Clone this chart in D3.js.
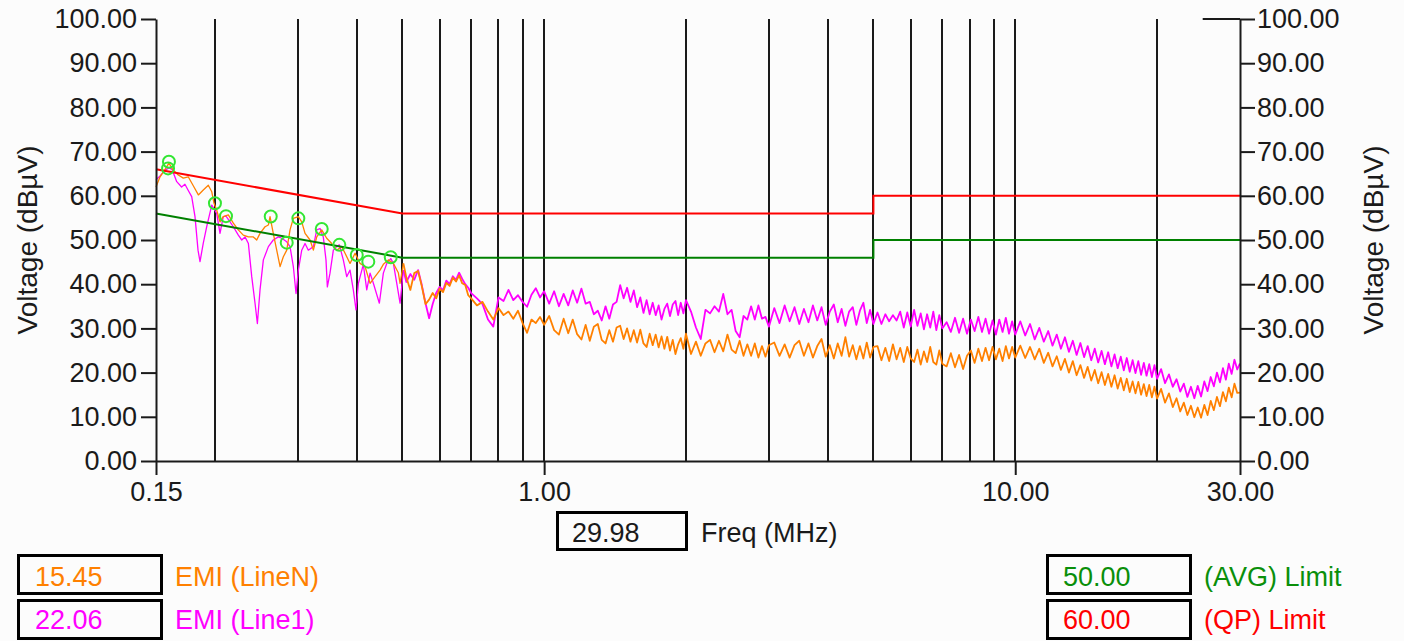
<!DOCTYPE html>
<html>
<head>
<meta charset="utf-8">
<script src="https://cdn.jsdelivr.net/npm/d3@7"></script>
<style>
  html, body { margin: 0; padding: 0; background: #fcfcfc; }
  svg text { font-family: "Liberation Sans", Arial, sans-serif; }
</style>
</head>
<body>
<svg id="chart" width="1404" height="641"></svg>
<script>
// ---------------- data ----------------
const yTicks = [0, 10, 20, 30, 40, 50, 60, 70, 80, 90, 100];
const xTicks = [0.15, 1, 10, 30];
const gridMHz = [0.2, 0.3, 0.4, 0.5, 0.6, 0.7, 0.8, 0.9, 1, 2, 3, 4, 5, 6, 7, 8, 9, 10, 20];

// QP and AVG limit lines [MHz, dBuV]
const qpLimit  = [[0.15, 66], [0.5, 56], [5, 56], [5, 60], [30, 60]];
const avgLimit = [[0.15, 56], [0.5, 46], [5, 46], [5, 50], [30, 50]];

// low-frequency detail, [MHz, dBuV]
const lineNLow = [[0.150,62.0],[0.153,64.3],[0.1568,66.0],[0.1598,67.4],[0.1632,65.8],[0.1673,64.7],[0.1714,64.0],[0.1756,64.3],[0.1806,62.0],[0.1845,60.2],[0.189,61.3],[0.1937,62.4],[0.197,60.9],[0.1992,58.3],[0.2018,56.8],[0.2051,54.1],[0.2084,55.3],[0.2136,55.7],[0.2189,53.8],[0.2243,52.3],[0.2298,51.1],[0.2356,50.7],[0.2414,50.7],[0.2454,50.0],[0.2494,51.5],[0.2556,53.0],[0.2598,53.4],[0.2619,55.3],[0.2661,51.5],[0.2706,47.7],[0.2751,44.0],[0.2795,46.2],[0.2842,47.7],[0.2888,52.3],[0.2935,54.9],[0.3008,55.3],[0.3058,54.1],[0.3108,51.5],[0.3185,50.0],[0.3237,47.7],[0.3291,50.7],[0.3372,52.3],[0.3455,50.4],[0.3541,49.2],[0.3628,47.7],[0.3718,48.5],[0.3779,47.0],[0.3872,44.7],[0.3969,47.0],[0.4066,44.7],[0.4167,44.0],[0.4271,40.2],[0.4376,41.7],[0.4484,43.2],[0.4557,44.5],[0.467,45.5],[0.4786,44.7],[0.4903,42.6],[0.4945,40.2],[0.5026,44.7]];

const line1Low = [[0.150,63.6],[0.153,64.5],[0.1568,65.8],[0.1598,66.3],[0.1622,66.0],[0.166,63.2],[0.170,62.0],[0.1728,62.6],[0.1754,61.3],[0.1786,59.8],[0.1815,55.3],[0.1842,47.7],[0.186,45.1],[0.189,49.3],[0.1922,53.0],[0.197,57.9],[0.2018,56.0],[0.2051,51.5],[0.2084,55.3],[0.2112,55.4],[0.2154,54.1],[0.2189,53.0],[0.2243,51.1],[0.2281,50.0],[0.2318,50.7],[0.2356,49.2],[0.2395,41.7],[0.2434,35.7],[0.2462,31.1],[0.2494,38.7],[0.2535,45.5],[0.2598,48.5],[0.2661,50.0],[0.2728,50.7],[0.2773,50.4],[0.2842,49.6],[0.2888,48.5],[0.2935,44.0],[0.2974,37.9],[0.3008,43.2],[0.3058,47.7],[0.3108,49.2],[0.3158,47.7],[0.3237,48.5],[0.3291,52.3],[0.3344,52.6],[0.3398,50.7],[0.3443,45.5],[0.3466,39.4],[0.3511,42.5],[0.3569,47.7],[0.3628,48.5],[0.3675,48.9],[0.3747,45.5],[0.3810,41.7],[0.3872,43.2],[0.3935,38.7],[0.3987,34.2],[0.4034,40.2],[0.4132,44.5],[0.4202,38.7],[0.4271,42.5],[0.4340,40.2],[0.4469,35.7],[0.4557,42.5],[0.4634,44.7],[0.4725,45.8],[0.4786,44.7],[0.4866,40.2],[0.4945,35.7],[0.5026,43.2]];

// sweep above 0.5 MHz
const sweepMHz = [
  0.51,0.52,0.53,0.54,0.55,0.56,0.57,0.58,0.59,0.60,0.61,0.62,0.63,0.64,0.65,0.66,0.67,0.68,0.69,0.70,
  0.72,0.74,0.76,0.78,0.80,0.82,0.84,0.86,0.88,0.90,0.92,0.94,0.96,0.98,1.00,
  1.025,1.05,1.075,1.10,1.125,1.15,1.175,1.20,1.225,1.25,1.275,1.30,1.325,1.35,1.375,1.40,1.425,1.45,1.475,1.50,
  1.525,1.55,1.575,1.60,1.625,1.65,1.675,1.70,1.725,1.75,1.775,1.80,1.825,1.85,1.875,1.90,1.925,1.95,1.975,2.00,
  2.05,2.10,2.15,2.20,2.25,2.30,2.35,2.40,2.45,2.50,2.55,2.60,2.65,2.70,2.75,2.80,2.85,2.90,2.95,3.00,
  3.08,3.16,3.24,3.32,3.40,3.48,3.56,3.64,3.72,3.80,3.88,3.96,4.04,4.12,4.20,4.28,4.36,4.44,4.52,4.60,4.68,4.76,4.84,4.92,5.00,
  5.1,5.2,5.3,5.4,5.5,5.6,5.7,5.8,5.9,6.0,6.1,6.2,6.3,6.4,6.5,6.6,6.7,6.8,6.9,7.0,
  7.15,7.30,7.45,7.60,7.75,7.90,8.05,8.20,8.35,8.50,8.65,8.80,8.95,9.10,9.25,9.40,9.55,9.70,9.85,10.0,
  10.25,10.5,10.75,11.0,11.25,11.5,11.75,12.0,12.25,12.5,12.75,13.0,13.25,13.5,13.75,14.0,14.25,14.5,14.75,15.0,
  15.25,15.5,15.75,16.0,16.25,16.5,16.75,17.0,17.25,17.5,17.75,18.0,18.25,18.5,18.75,19.0,19.25,19.5,19.75,20.0,
  20.4,20.8,21.2,21.6,22.0,22.4,22.8,23.2,23.6,24.0,24.4,24.8,25.2,25.6,26.0,26.4,26.8,27.2,27.6,28.0,28.4,28.8,29.2,29.6,29.98
];

const lineNSweep = [
  41.5,38.7,42.5,43.0,39.5,35.5,36.5,38.0,36.8,39.0,38.2,40.3,39.6,41.5,40.6,42.0,40.2,39.8,37.5,36.8,
  35.2,36.0,33.8,32.0,34.6,33.0,33.8,32.2,34.0,31.2,29.0,32.0,31.2,32.6,30.8,
  32.8,29.6,28.6,32.2,28.9,32.0,28.7,27.5,30.8,27.2,30.4,31.0,27.4,26.6,29.6,27.0,30.2,30.6,27.6,30.0,
  27.0,29.6,26.8,29.7,26.6,25.8,28.8,26.2,28.6,25.7,28.2,25.4,28.1,25.0,27.4,24.2,26.4,27.8,25.4,28.8,
  24.2,27.0,23.8,26.6,27.4,24.6,27.2,24.8,28.6,25.2,24.4,27.2,23.8,26.4,23.8,26.6,23.4,26.0,23.6,26.2,
  26.8,23.8,26.4,23.4,26.2,27.2,23.8,26.6,23.4,26.0,27.6,23.6,26.2,23.2,26.6,23.8,28.0,23.6,26.2,23.0,26.0,23.2,26.8,23.4,25.8,
  26.0,22.8,25.6,22.6,26.4,23.0,25.6,22.4,25.8,23.2,22.4,25.2,21.8,24.8,22.4,25.8,22.4,21.8,25.0,22.0,
  21.4,24.4,21.2,24.0,20.8,23.8,25.0,22.2,25.4,22.6,25.6,22.8,25.8,23.0,25.4,22.6,26.0,23.2,25.8,23.4,
  26.1,23.3,25.8,23.0,25.4,22.2,24.5,21.4,23.7,20.6,23.1,20.0,22.6,19.4,21.7,18.8,21.3,18.2,20.6,17.6,
  20.1,17.2,19.7,16.8,19.4,16.4,18.8,16.0,18.6,15.6,18.0,15.3,17.9,15.0,17.4,14.7,17.2,14.4,16.8,14.1,
  16.3,13.2,15.3,12.2,14.2,11.2,13.2,10.4,12.5,9.9,12.1,9.8,12.7,10.4,13.6,11.5,14.5,12.4,15.6,13.5,16.6,14.4,17.5,15.4,15.45
];

const line1Sweep = [
  40.5,42.3,41.0,43.2,39.8,35.7,32.3,35.5,38.0,39.4,38.6,40.8,40.0,41.8,41.0,42.6,41.2,40.0,39.2,38.0,
  36.8,35.5,32.0,30.4,37.0,36.2,38.7,36.4,37.5,36.0,34.9,37.6,39.1,37.0,38.4,
  35.6,38.4,35.0,37.8,35.2,38.6,35.8,39.0,35.6,36.0,33.2,34.0,31.8,35.0,32.2,35.4,36.0,39.8,36.8,39.2,
  36.0,38.6,34.8,37.0,33.5,36.4,33.2,35.8,33.0,35.2,32.0,34.4,35.6,32.8,35.4,36.2,33.0,35.8,33.4,36.4,
  33.8,30.2,27.6,34.2,33.4,35.0,33.8,37.8,33.2,34.2,29.4,28.0,32.8,32.0,35.0,32.0,35.2,32.2,32.6,30.4,
  34.6,31.2,35.2,31.6,34.8,31.0,34.4,31.4,35.2,31.8,34.8,30.8,33.8,35.4,31.4,34.4,30.6,33.8,34.8,30.8,34.0,35.8,31.2,34.2,31.0,
  33.6,31.0,33.2,31.6,33.0,31.8,33.8,30.2,33.6,30.4,34.2,30.6,33.4,29.8,33.2,30.2,33.8,29.6,33.0,30.0,
  31.4,29.2,32.4,29.0,32.2,28.8,32.0,29.4,32.6,29.2,32.2,28.8,31.8,28.6,32.0,29.2,32.4,28.8,31.6,28.6,
  31.6,28.4,31.0,27.5,30.1,27.0,29.4,26.1,28.6,25.4,28.0,24.7,27.2,24.0,26.7,23.5,26.0,22.8,25.4,22.3,
  24.9,21.9,24.6,21.4,24.1,21.0,23.6,20.5,23.3,20.2,22.8,19.9,22.6,19.5,22.2,19.3,21.9,19.0,21.7,18.6,
  20.8,17.6,19.6,16.8,18.5,15.7,17.5,14.5,16.8,14.2,17.0,14.6,18.0,15.8,19.0,16.9,20.0,17.8,21.0,18.4,22.0,19.7,22.9,20.7,22.06
];

// peak markers [MHz, dBuV]
const peakMarks = [[0.1598,67.7],[0.1591,66.2],[0.2001,58.3],[0.2112,55.4],[0.2628,55.3],[0.2842,49.4],[0.3008,54.9],[0.3372,52.5],[0.3675,48.9],[0.4002,46.6],[0.4234,45.1],[0.4725,46.1]];

const cursorMHz = 29.98;
const seriesNames = ["EMI (LineN)", "EMI (Line1)", "(AVG) Limit", "(QP) Limit"];
const axisTitleY = "Voltage (dBµV)";
const axisTitleX = "Freq (MHz)";

// ---------------- drawing ----------------
const C = { orange: "#ff8000", magenta: "#ff00ff", red: "#ff0000", green: "#008000", mark: "#33e633", ink: "#1a1a1a" };
const svg = d3.select("#chart");
const x = d3.scaleLog().domain([0.15, 30]).range([156, 1240]);
const y = d3.scaleLinear().domain([0, 100]).range([461, 19]);
const fmt = d3.format(".2f");
const FONT = 27;

// vertical grid
svg.append("g").selectAll("line").data(gridMHz).join("line")
  .attr("x1", d => Math.round(x(d))).attr("x2", d => Math.round(x(d)))
  .attr("y1", y(0)).attr("y2", y(100))
  .attr("stroke", C.ink).attr("stroke-width", 2);
// short top edge segment at right
svg.append("line").attr("x1", x(25)).attr("x2", x(30)).attr("y1", y(100)).attr("y2", y(100))
  .attr("stroke", C.ink).attr("stroke-width", 2);

const lineGen = d3.line().x(d => x(d[0])).y(d => y(d[1]));
function drawTrace(low, sweepVals, color) {
  const sweep = [low[low.length - 1]].concat(sweepMHz.map((f, i) => [f, sweepVals[i]]));
  svg.append("path").datum(low).attr("d", lineGen).attr("fill", "none")
    .attr("stroke", color).attr("stroke-width", 1.3).attr("stroke-linejoin", "round");
  svg.append("path").datum(sweep).attr("d", lineGen).attr("fill", "none")
    .attr("stroke", color).attr("stroke-width", 1.8).attr("stroke-linejoin", "round");
}
drawTrace(line1Low, line1Sweep, C.magenta);
drawTrace(lineNLow, lineNSweep, C.orange);

svg.append("path").datum(avgLimit).attr("d", lineGen).attr("fill", "none")
  .attr("stroke", C.green).attr("stroke-width", 2);
svg.append("path").datum(qpLimit).attr("d", lineGen).attr("fill", "none")
  .attr("stroke", C.red).attr("stroke-width", 2);

// axes
function styleAxis(g) {
  g.attr("font-size", FONT).attr("font-family", '"Liberation Sans", Arial, sans-serif');
  g.selectAll("path.domain").attr("stroke", C.ink).attr("stroke-width", 2);
  g.selectAll(".tick line").attr("stroke", C.ink).attr("stroke-width", 2);
  g.selectAll(".tick text").attr("fill", C.ink);
}
svg.append("g").attr("transform", "translate(156,0)")
  .call(d3.axisLeft(y).tickValues(yTicks).tickSize(15).tickSizeOuter(0).tickPadding(4).tickFormat(fmt))
  .call(styleAxis);
svg.append("g").attr("transform", "translate(1240,0)")
  .call(d3.axisRight(y).tickValues(yTicks).tickSize(15).tickSizeOuter(0).tickPadding(2).tickFormat(fmt))
  .call(styleAxis);
svg.append("g").attr("transform", "translate(0,461)")
  .call(d3.axisBottom(x).tickValues(xTicks).tickSize(14).tickSizeOuter(0).tickPadding(7).tickFormat(fmt))
  .call(styleAxis);

// peak markers
svg.append("g").selectAll("circle").data(peakMarks).join("circle")
  .attr("cx", d => x(d[0])).attr("cy", d => y(d[1])).attr("r", 6)
  .attr("fill", "none").attr("stroke", C.mark).attr("stroke-width", 2);

// axis titles
[37, 1383].forEach(tx => {
  svg.append("text").attr("transform", `translate(${tx},240) rotate(-90)`)
    .attr("text-anchor", "middle").attr("font-size", 28).attr("fill", C.ink).text(axisTitleY);
});

// cursor box
function box(x0, y0, w, h) {
  svg.append("rect").attr("x", x0).attr("y", y0).attr("width", w).attr("height", h)
    .attr("fill", "#fcfcfc").attr("stroke", "#000").attr("stroke-width", 3);
}
function label(tx, ty, str, col) {
  svg.append("text").attr("x", tx).attr("y", ty).attr("font-size", FONT).attr("fill", col).text(str);
}
box(557.5, 512.5, 129, 37);
label(572, 542, fmt(cursorMHz), C.ink);
label(701, 542, axisTitleX, C.ink);

// legend
const legendRows = [
  { bx: 18.5, by: 555.5, val: lineNSweep[lineNSweep.length - 1], name: seriesNames[0], col: C.orange, tx: 35, nx: 175, ty: 586 },
  { bx: 18.5, by: 600.5, val: line1Sweep[line1Sweep.length - 1], name: seriesNames[1], col: C.magenta, tx: 35, nx: 175, ty: 629 },
  { bx: 1047.5, by: 555.5, val: avgLimit[avgLimit.length - 1][1], name: seriesNames[2], col: "#0a8f0a", tx: 1063, nx: 1204, ty: 586 },
  { bx: 1047.5, by: 600.5, val: qpLimit[qpLimit.length - 1][1], name: seriesNames[3], col: C.red, tx: 1063, nx: 1204, ty: 629 }
];
legendRows.forEach(r => {
  box(r.bx, r.by, 143, 38);
  label(r.tx, r.ty, fmt(r.val), r.col);
  label(r.nx, r.ty, r.name, r.col);
});
</script>
</body>
</html>
